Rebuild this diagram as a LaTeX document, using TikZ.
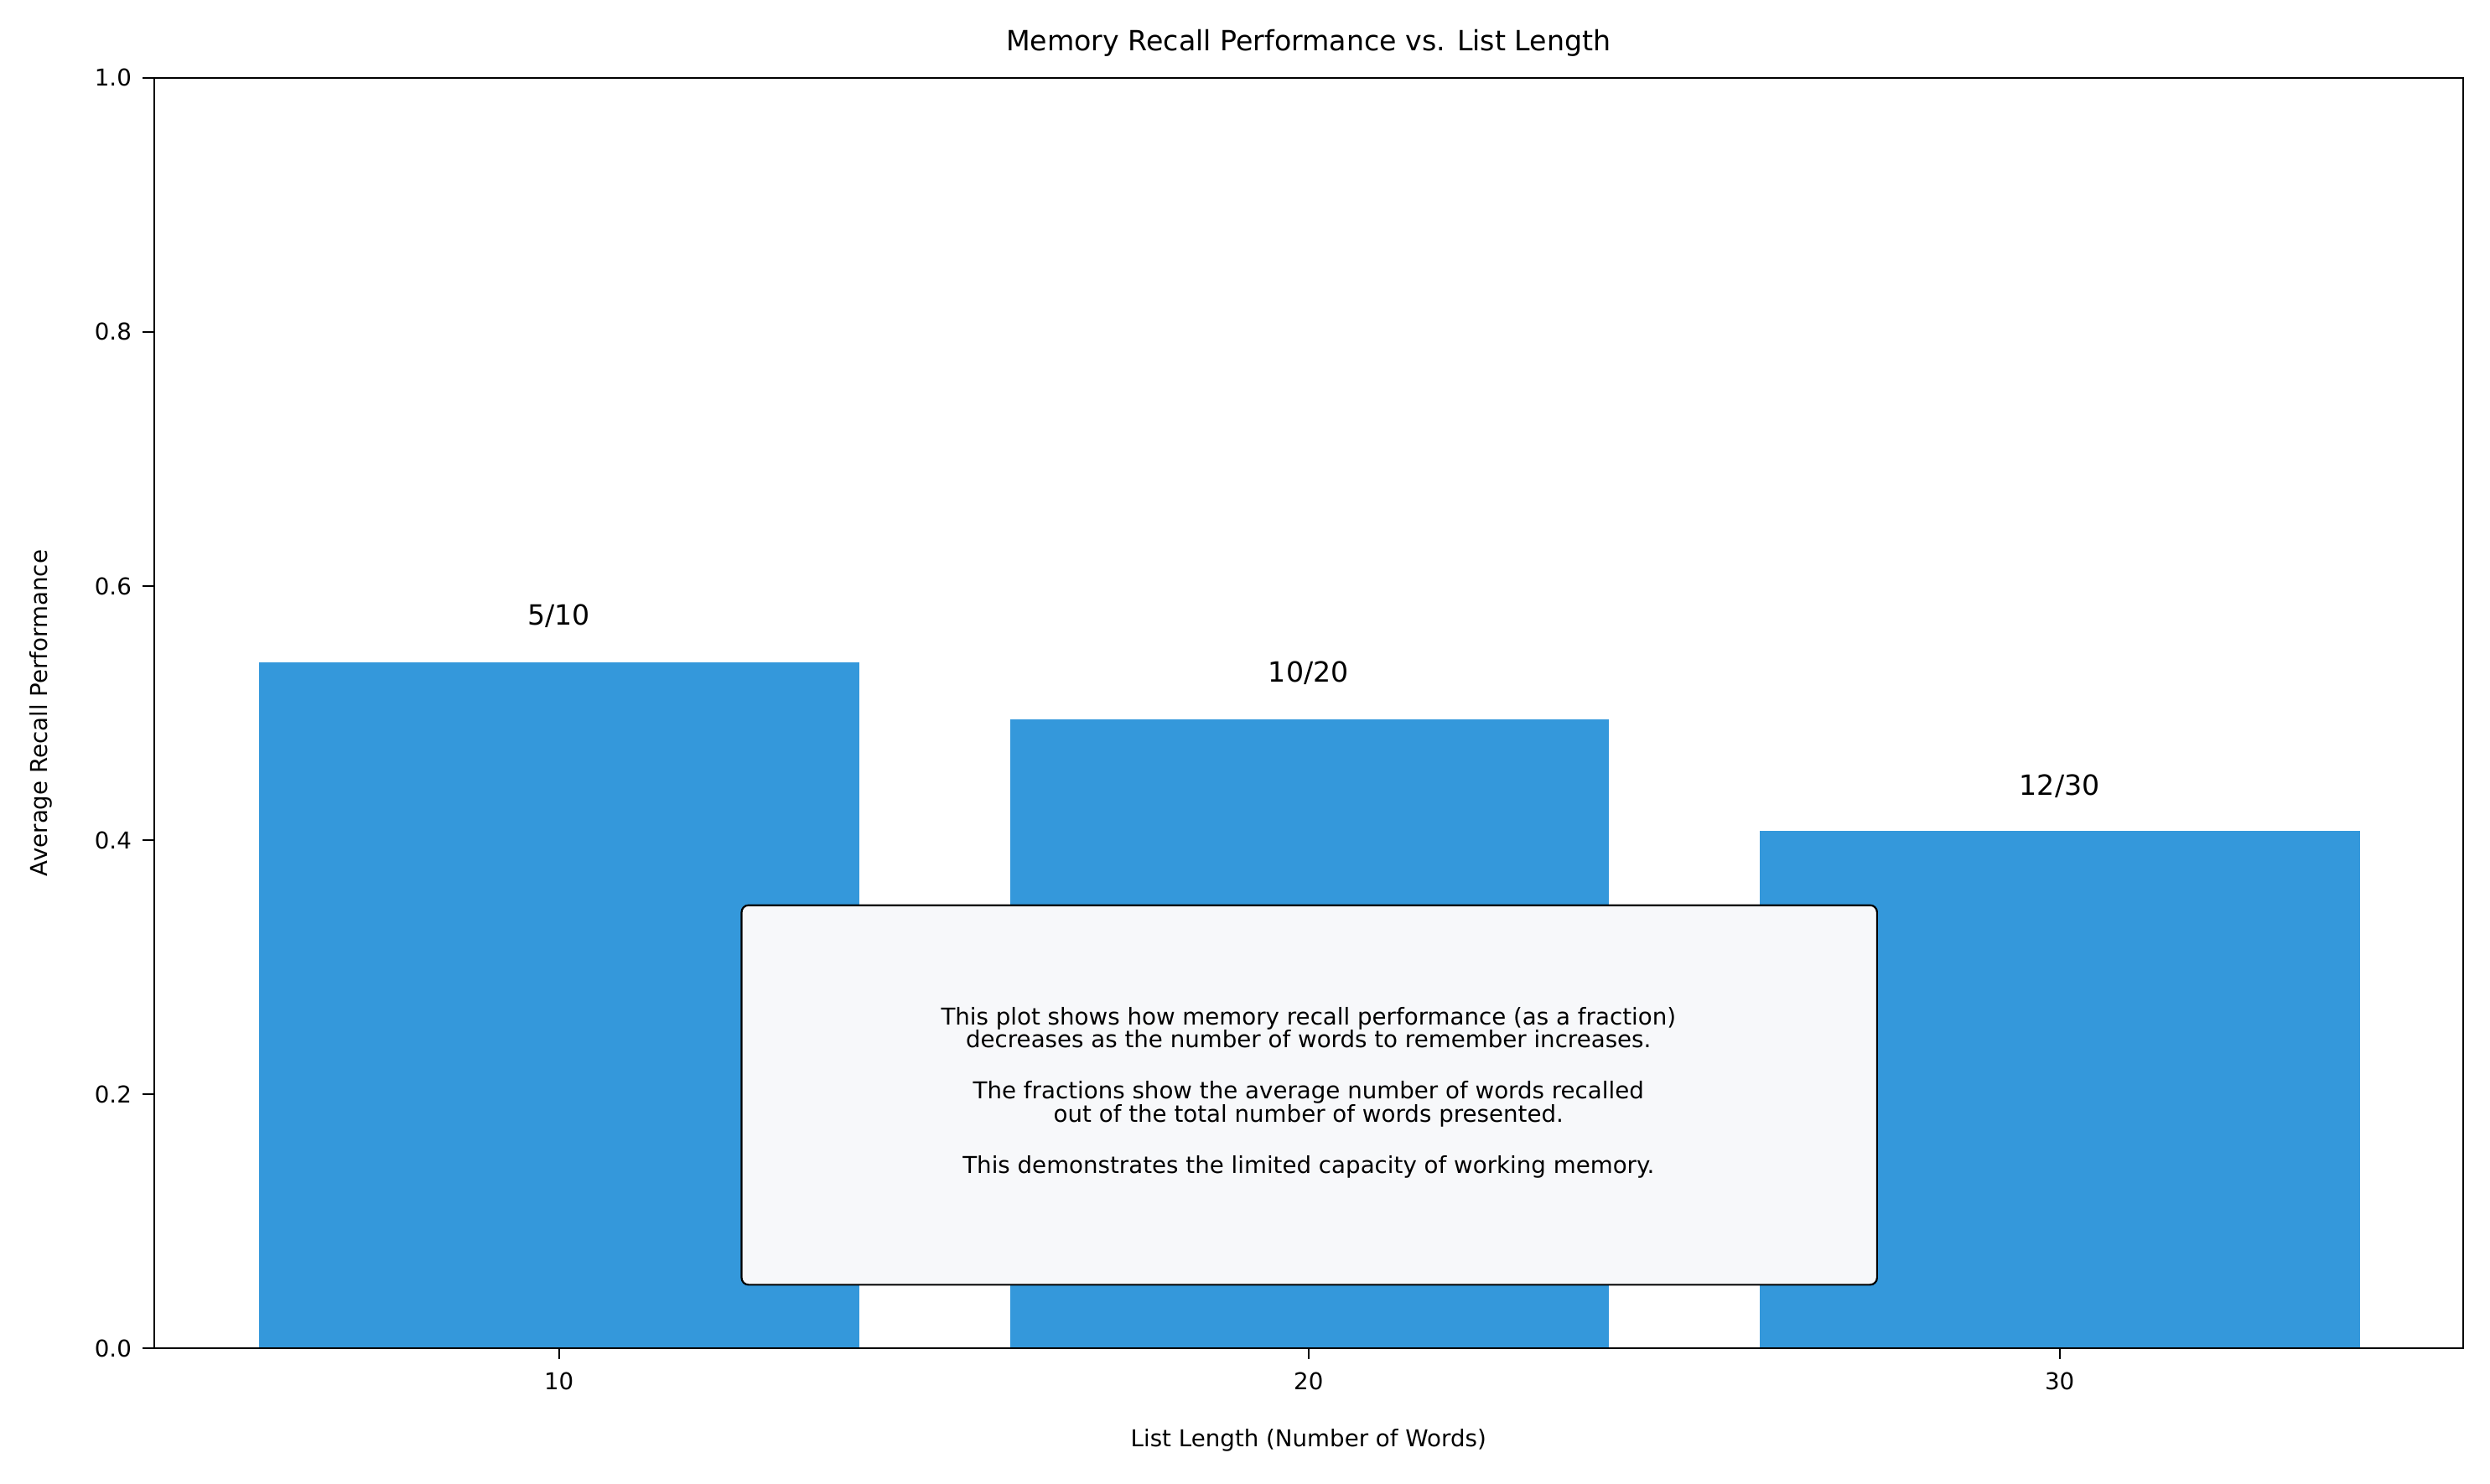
\documentclass[tikz,border=0pt]{standalone}
\usepackage{fontspec}
\setmainfont{DejaVu Sans}
\definecolor{barblue}{HTML}{3498DB}
\definecolor{boxfill}{HTML}{F7F8FA}
\tikzset{
  bar/.style={fill=barblue,draw=none},
  tick/.style={font=\fontsize{10}{12}\selectfont},
  barlabel/.style={font=\fontsize{12}{14}\selectfont},
  notebox/.style={draw=black,fill=boxfill,rounded corners=3pt,line width=0.8pt}
}
\begin{document}
\begin{tikzpicture}[x=0.02405cm,y=-0.02405cm]
  \useasboundingbox (0,0) rectangle (1568,934);
  % bars
  \fill[bar] (163,849) rectangle (541,417);
  \fill[bar] (636,849) rectangle (1013,453);
  \fill[bar] (1108,849) rectangle (1486,523);
  \node[barlabel] (l1) at (352,388) {5/10};
  \node[barlabel] (l2) at (824,424) {10/20};
  \node[barlabel] (l3) at (1297,495) {12/30};
  % note box
  \draw[notebox] (467,570) rectangle (1182,809);
  \node[tick,align=center] (note) at (824,688) {This plot shows how memory recall performance (as a fraction)\\[-2pt]
    decreases as the number of words to remember increases.\\[10pt]
    The fractions show the average number of words recalled\\[-2pt]
    out of the total number of words presented.\\[10pt]
    This demonstrates the limited capacity of working memory.};
  % axes
  \draw[line width=0.8pt] (97,49) rectangle (1551,849);
  \foreach \v/\y in {0.0/849,0.2/689,0.4/529,0.6/369,0.8/209,1.0/49}{
    \draw[line width=0.8pt] (97,\y) -- ++(-7,0);
    \node[tick,anchor=east] at (88,\y) {\v};
  }
  \foreach \v/\x in {10/352,20/824,30/1297}{
    \draw[line width=0.8pt] (\x,849) -- ++(0,7);
    \node[tick,anchor=north] at (\x,859) {\v};
  }
  \node[barlabel] (title) at (824,27) {Memory Recall Performance vs. List Length};
  \node[tick] (xlab) at (824,907) {List Length (Number of Words)};
  \node[tick,rotate=90] (ylab) at (26,449) {Average Recall Performance};
\end{tikzpicture}
\end{document}
